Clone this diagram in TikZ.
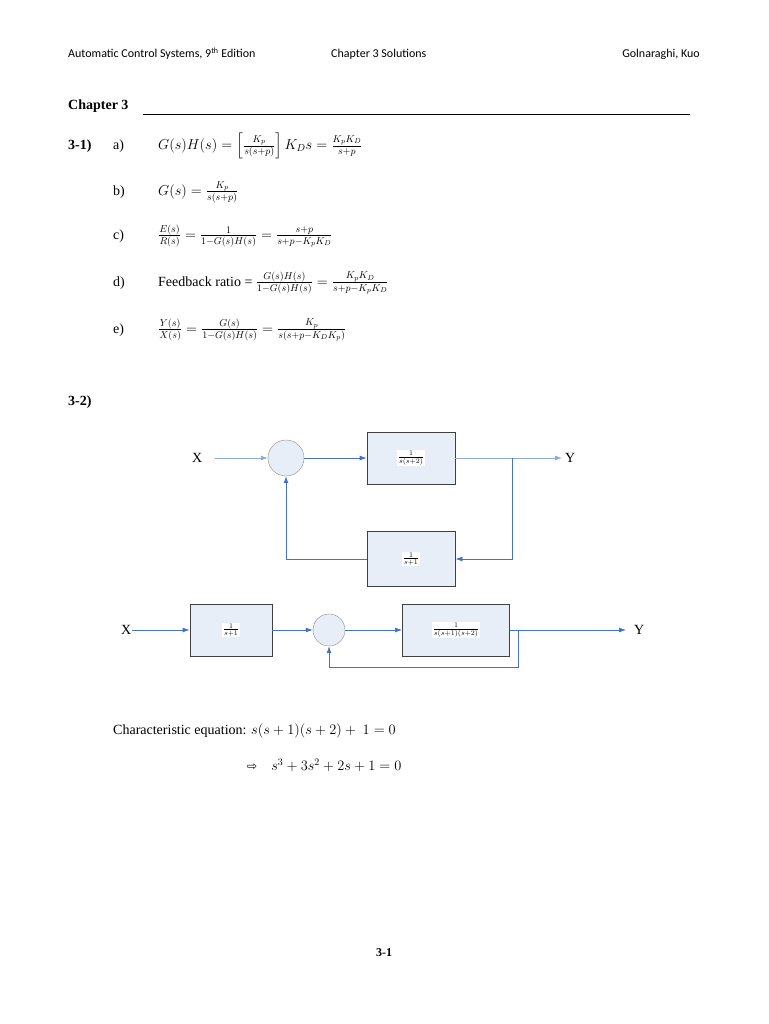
\documentclass[tikz,border=0pt]{standalone}
\usepackage{amsmath}
\usepackage{fontspec}
\setmainfont{Liberation Serif}
\newfontfamily\hdr{Carlito}
\newfontfamily\dv{DejaVu Sans}
\usetikzlibrary{arrows.meta}
\definecolor{ablue}{RGB}{68,114,196}
\definecolor{bfill}{RGB}{232,238,248}
\begin{document}
\begin{tikzpicture}[x=1pt,y=-1pt,
  txt/.style={anchor=west,inner sep=0,font=\fontsize{14}{16}\selectfont},
  blk/.style={draw=black!75,fill=bfill,thick,minimum width=#1,minimum height=52,inner sep=0},
  sumc/.style={circle,draw=black!45,fill=bfill,minimum size=#1,inner sep=0},
  conn/.style={draw=ablue,thick,-{Latex[length=7pt,width=5pt]}},
  line/.style={draw=ablue,thick},
  frac/.style={fill=white,inner sep=1pt,font=\fontsize{10}{12}\selectfont}]
\useasboundingbox[fill=white] (0,0) rectangle (768,1024);
% header
\node[anchor=west,inner sep=0,font=\hdr\fontsize{12}{14}\selectfont] (h1) at (68,54) {Automatic Control Systems, 9\textsuperscript{th} Edition};
\node[anchor=west,inner sep=0,font=\hdr\fontsize{12}{14}\selectfont] (h2) at (331,54) {Chapter 3 Solutions};
\node[anchor=east,inner sep=0,font=\hdr\fontsize{12}{14}\selectfont] (h3) at (700,54) {Golnaraghi, Kuo};
\node[txt,font=\bfseries\fontsize{14}{16}\selectfont] (ch) at (68,106) {Chapter 3};
\coordinate (u1) at (143,114); \coordinate (u2) at (690,114);
\draw[thick] (u1) -- (u2);
% 3-1
\node[txt,font=\bfseries\fontsize{14}{16}\selectfont] (p31) at (68,146) {3-1)};
\node[txt] (la) at (113,146) {a)};
\node[txt] (fa) at (158,146) {$G(s)H(s)=\left[\frac{K_p}{s(s+p)}\right]K_D s=\frac{K_pK_D}{s+p}$};
\node[txt] (lb) at (113,192) {b)};
\node[txt] (fb) at (158,192) {$G(s)=\frac{K_p}{s(s+p)}$};
\node[txt] (lc) at (113,236) {c)};
\node[txt] (fc) at (158,236) {$\frac{E(s)}{R(s)}=\frac{1}{1-G(s)H(s)}=\frac{s+p}{s+p-K_pK_D}$};
\node[txt] (ld) at (113,283) {d)};
\node[txt] (fd) at (158,283) {Feedback ratio = $\frac{G(s)H(s)}{1-G(s)H(s)}=\frac{K_pK_D}{s+p-K_pK_D}$};
\node[txt] (le) at (113,330) {e)};
\node[txt] (fe) at (158,330) {$\frac{Y(s)}{X(s)}=\frac{G(s)}{1-G(s)H(s)}=\frac{K_p}{s\left(s+p-K_DK_p\right)}$};
% 3-2
\node[txt,font=\bfseries\fontsize{14}{16}\selectfont] (p32) at (68,402) {3-2)};
% diagram 1
\node[txt] (x1) at (192,458) {X};
\node[sumc=36] (s1) at (286,458) {};
\node[blk=88] (b1) at (411,458) {}; \node[frac] at (b1) {$\frac{1}{s(s+2)}$};
\node[blk=88,minimum height=55] (b2) at (411,559) {}; \node[frac] at (b2) {$\frac{1}{s+1}$};
\node[txt] (y1) at (565,458) {Y};
\coordinate (xs1) at (215,458); \coordinate (ye1) at (562,458);
\coordinate (br1) at (512,458); \coordinate (br1b) at (512,559); \coordinate (c1) at (286,559);
\draw[conn,draw=ablue!60] (xs1) -- (s1);
\draw[conn] (s1) -- (b1);
\draw[conn,draw=ablue!60] (b1) -- (ye1);
\draw[conn] (br1) -- (br1b) -- (b2.east);
\draw[conn] (b2.west) -- (c1) -- (s1.south);
% diagram 2
\node[txt] (x2) at (121,630) {X};
\node[blk=82] (b3) at (231,630) {}; \node[frac] at (b3) {$\frac{1}{s+1}$};
\node[sumc=32] (s2) at (329,630) {};
\node[blk=107] (b4) at (456,630) {}; \node[frac] at (b4) {$\frac{1}{s(s+1)(s+2)}$};
\node[txt] (y2) at (634,630) {Y};
\coordinate (xs2) at (132,630); \coordinate (ye2) at (626,630);
\coordinate (br2) at (518,630); \coordinate (br2b) at (518,667); \coordinate (c2) at (329,667);
\draw[conn] (xs2) -- (b3);
\draw[conn] (b3) -- (s2);
\draw[conn] (s2) -- (b4);
\draw[conn] (b4) -- (ye2);
\draw[conn] (br2) -- (br2b) -- (c2) -- (s2.south);
% characteristic
\node[txt] (ce) at (113,731) {Characteristic equation: $s(s+1)(s+2)+\ 1=0$};
\node[txt] (ar) at (247,765) {{\dv\fontsize{12}{14}\selectfont ⇨}\quad $s^3+3s^2+2s+1=0$};
\node[inner sep=0,font=\bfseries\fontsize{12}{14}\selectfont] (ft) at (384,953) {3-1};
\end{tikzpicture}
\end{document}
